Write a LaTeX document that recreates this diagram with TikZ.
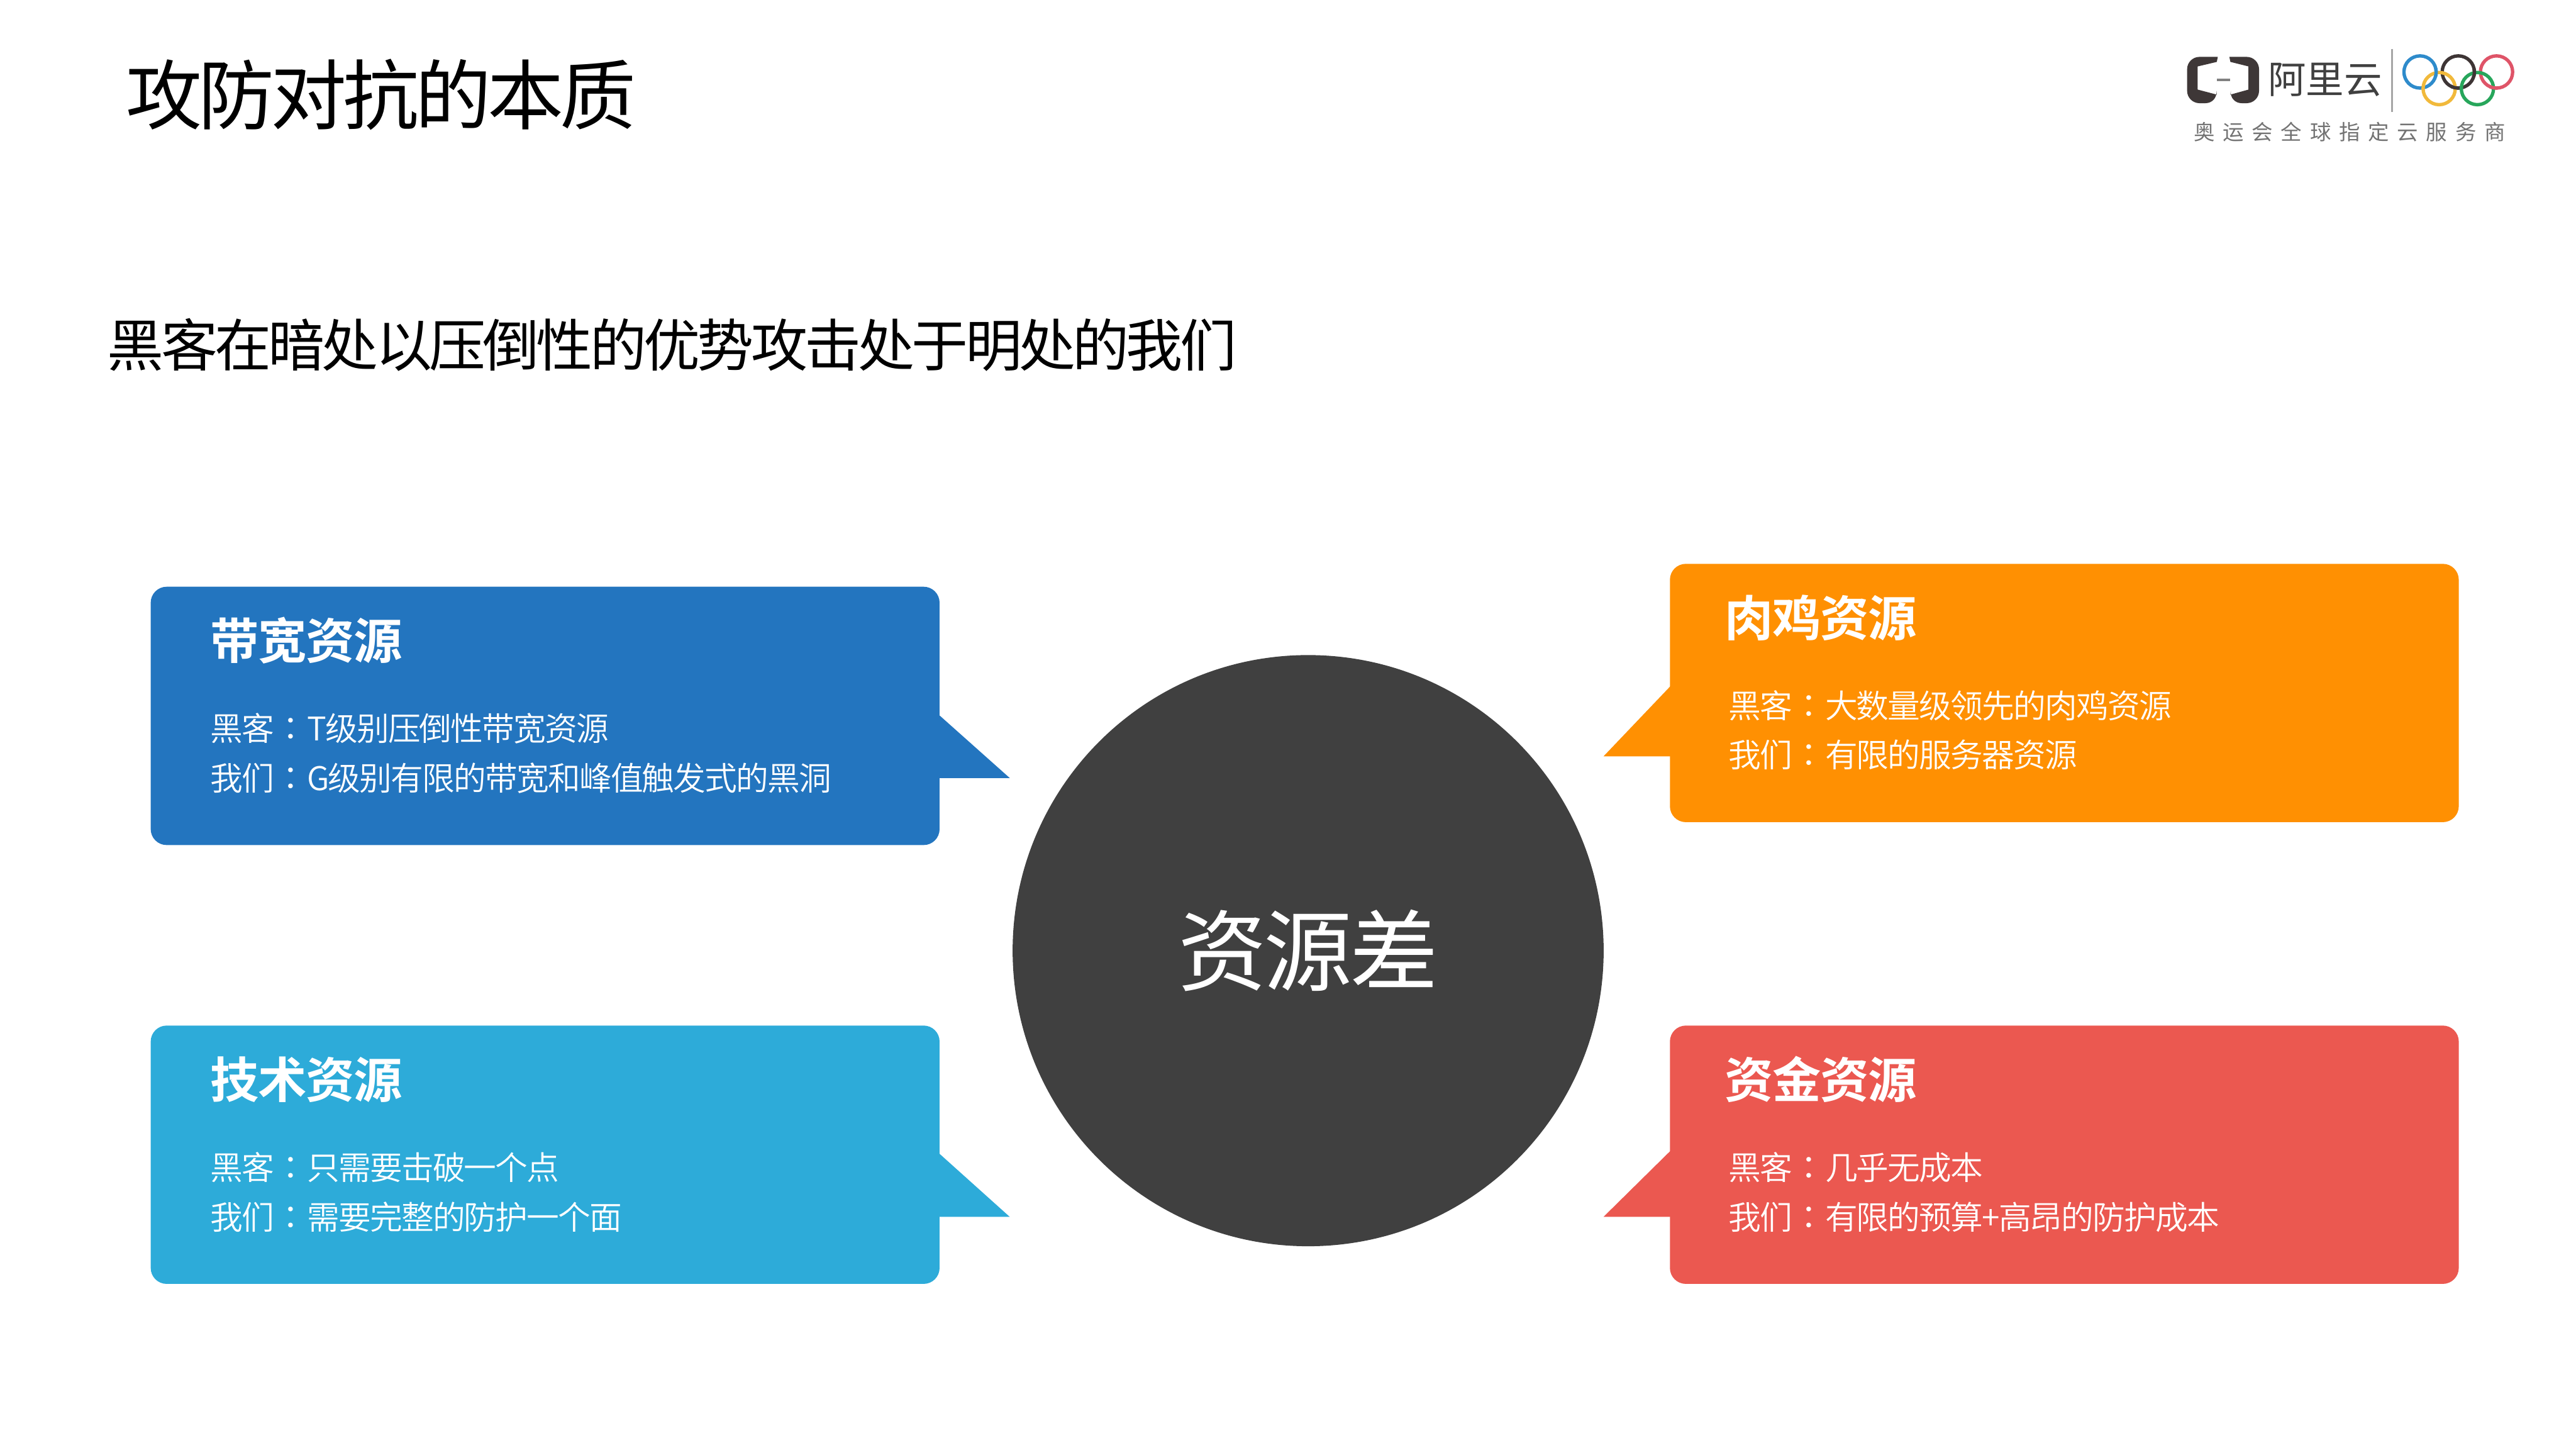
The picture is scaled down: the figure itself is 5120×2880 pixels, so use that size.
\documentclass[tikz,border=0pt]{standalone}
\usepackage{fontspec}
\setmainfont{Noto Sans CJK SC}[BoldFont=* Bold]
\newfontfamily\thinfont{Noto Sans CJK SC}[UprightFont=* DemiLight]
\newfontfamily\tcfont{Noto Sans CJK TC}[UprightFont=* DemiLight]
\newcommand{\cn}{{\tcfont ：}}
\definecolor{bandblue}{HTML}{2375BF}
\definecolor{botorange}{HTML}{FF9002}
\definecolor{techcyan}{HTML}{2DABD9}
\definecolor{fundred}{HTML}{EB5850}
\definecolor{coredark}{HTML}{404040}
\definecolor{ringblue}{HTML}{2E8BCB}
\definecolor{ringblack}{HTML}{3E3535}
\definecolor{ringred}{HTML}{DF5468}
\definecolor{ringyellow}{HTML}{F1B93B}
\definecolor{ringgreen}{HTML}{27A65B}
\tikzset{
  panel/.style={rectangle,rounded corners=9pt,minimum width=15.67cm,minimum height=5.13cm,inner sep=0pt},
  paneltitle/.style={anchor=west,inner sep=0pt,text=white,font=\fontsize{27.5}{30}\selectfont\bfseries\addfontfeature{LetterSpace=-2}},
  paneltext/.style={anchor=west,inner sep=0pt,text=white,font=\thinfont\fontsize{18.4}{20}\selectfont\addfontfeature{LetterSpace=-3.6}},
  ring/.style={line width=1.9pt}
}
\begin{document}
\begin{tikzpicture}[x=0.01cm,y=-0.01cm]
\useasboundingbox (0,0) rectangle (5120,2880);
\node[anchor=west,inner sep=0pt,font=\fontsize{43}{46}\selectfont\addfontfeature{LetterSpace=-5}] (heading) at (250,188) {攻防对抗的本质};
\node[anchor=west,inner sep=0pt,font=\fontsize{32}{34}\selectfont\addfontfeature{LetterSpace=-5.3}] (subheading) at (213,685) {黑客在暗处以压倒性的优势攻击处于明处的我们};
% panels
\fill[bandblue] (1860,1415) -- (2007,1546) -- (1860,1546) -- cycle;
\node[panel,fill=bandblue] (bandwidth) at (1083.5,1422.5) {};
\fill[botorange] (3330,1353) -- (3187,1503) -- (3330,1503) -- cycle;
\node[panel,fill=botorange] (bots) at (4103,1377) {};
\fill[techcyan] (1860,2286) -- (2007,2418) -- (1860,2418) -- cycle;
\node[panel,fill=techcyan] (tech) at (1083.5,2294.5) {};
\fill[fundred] (3330,2277) -- (3187,2418) -- (3330,2418) -- cycle;
\node[panel,fill=fundred] (funds) at (4103,2294.5) {};
\node[circle,fill=coredark,minimum size=11.74cm,inner sep=0pt,text=white,font=\fontsize{50}{52}\selectfont\addfontfeature{LetterSpace=-3}] (core) at (2600,1889) {资源差};
% texts
\node[paneltitle] (bandtitle) at (418,1273) {带宽资源};
\node[paneltext] (bandone) at (418,1448) {黑客\cn T级别压倒性带宽资源};
\node[paneltext] (bandtwo) at (418,1546) {我们\cn G级别有限的带宽和峰值触发式的黑洞};
\node[paneltitle] (bottitle) at (3428,1228) {肉鸡资源};
\node[paneltext] (botone) at (3435,1402) {黑客\cn 大数量级领先的肉鸡资源};
\node[paneltext] (bottwo) at (3435,1500) {我们\cn 有限的服务器资源};
\node[paneltitle] (techtitle) at (418,2145) {技术资源};
\node[paneltext] (techone) at (418,2320) {黑客\cn 只需要击破一个点};
\node[paneltext] (techtwo) at (418,2418) {我们\cn 需要完整的防护一个面};
\node[paneltitle] (fundtitle) at (3428,2145) {资金资源};
\node[paneltext] (fundone) at (3435,2320) {黑客\cn 几乎无成本};
\node[paneltext] (fundtwo) at (3435,2418) {我们\cn 有限的预算+高昂的防护成本};
% logo
\fill[ringblack!80!coredark] (4408,113) [rounded corners=7pt] -- (4347,113) -- (4347,205) -- (4408,205) [sharp corners] -- (4406,188) -- (4368,178) -- (4368,132) -- (4406,123) -- cycle;
\fill[ringblack!80!coredark] (4431,113) [rounded corners=7pt] -- (4490,113) -- (4490,205) -- (4431,205) [sharp corners] -- (4433,188) -- (4469,178) -- (4469,132) -- (4433,123) -- cycle;
\fill[gray] (4406,156) rectangle (4433,161);
\node[inner sep=0pt,text=coredark,font=\fontsize{21.5}{23}\selectfont] (aliyun) at (4621,158) {阿里云};
\draw[gray!70,line width=1pt] (4754,97) -- (4754,222);
\draw[ring,ringblue] (4810,143) circle (32);
\draw[ring,ringblack] (4886,143) circle (32);
\draw[ring,ringred] (4962,143) circle (32);
\draw[ring,ringyellow] (4848,176) circle (32);
\draw[ring,ringgreen] (4924,176) circle (32);
\draw[ring,ringblue] (4810,143) ++(-12:32) arc (-12:18:32);
\draw[ring,ringblack] (4886,143) ++(86:32) arc (86:116:32);
\draw[ring,ringblack] (4886,143) ++(-12:32) arc (-12:18:32);
\draw[ring,ringred] (4962,143) ++(86:32) arc (86:116:32);
\node[inner sep=0pt,text=gray!90!black,font=\fontsize{11.9}{13}\selectfont\addfontfeature{LetterSpace=38}] (sponsor) at (4670,262) {奥运会全球指定云服务商};
\end{tikzpicture}
\end{document}
